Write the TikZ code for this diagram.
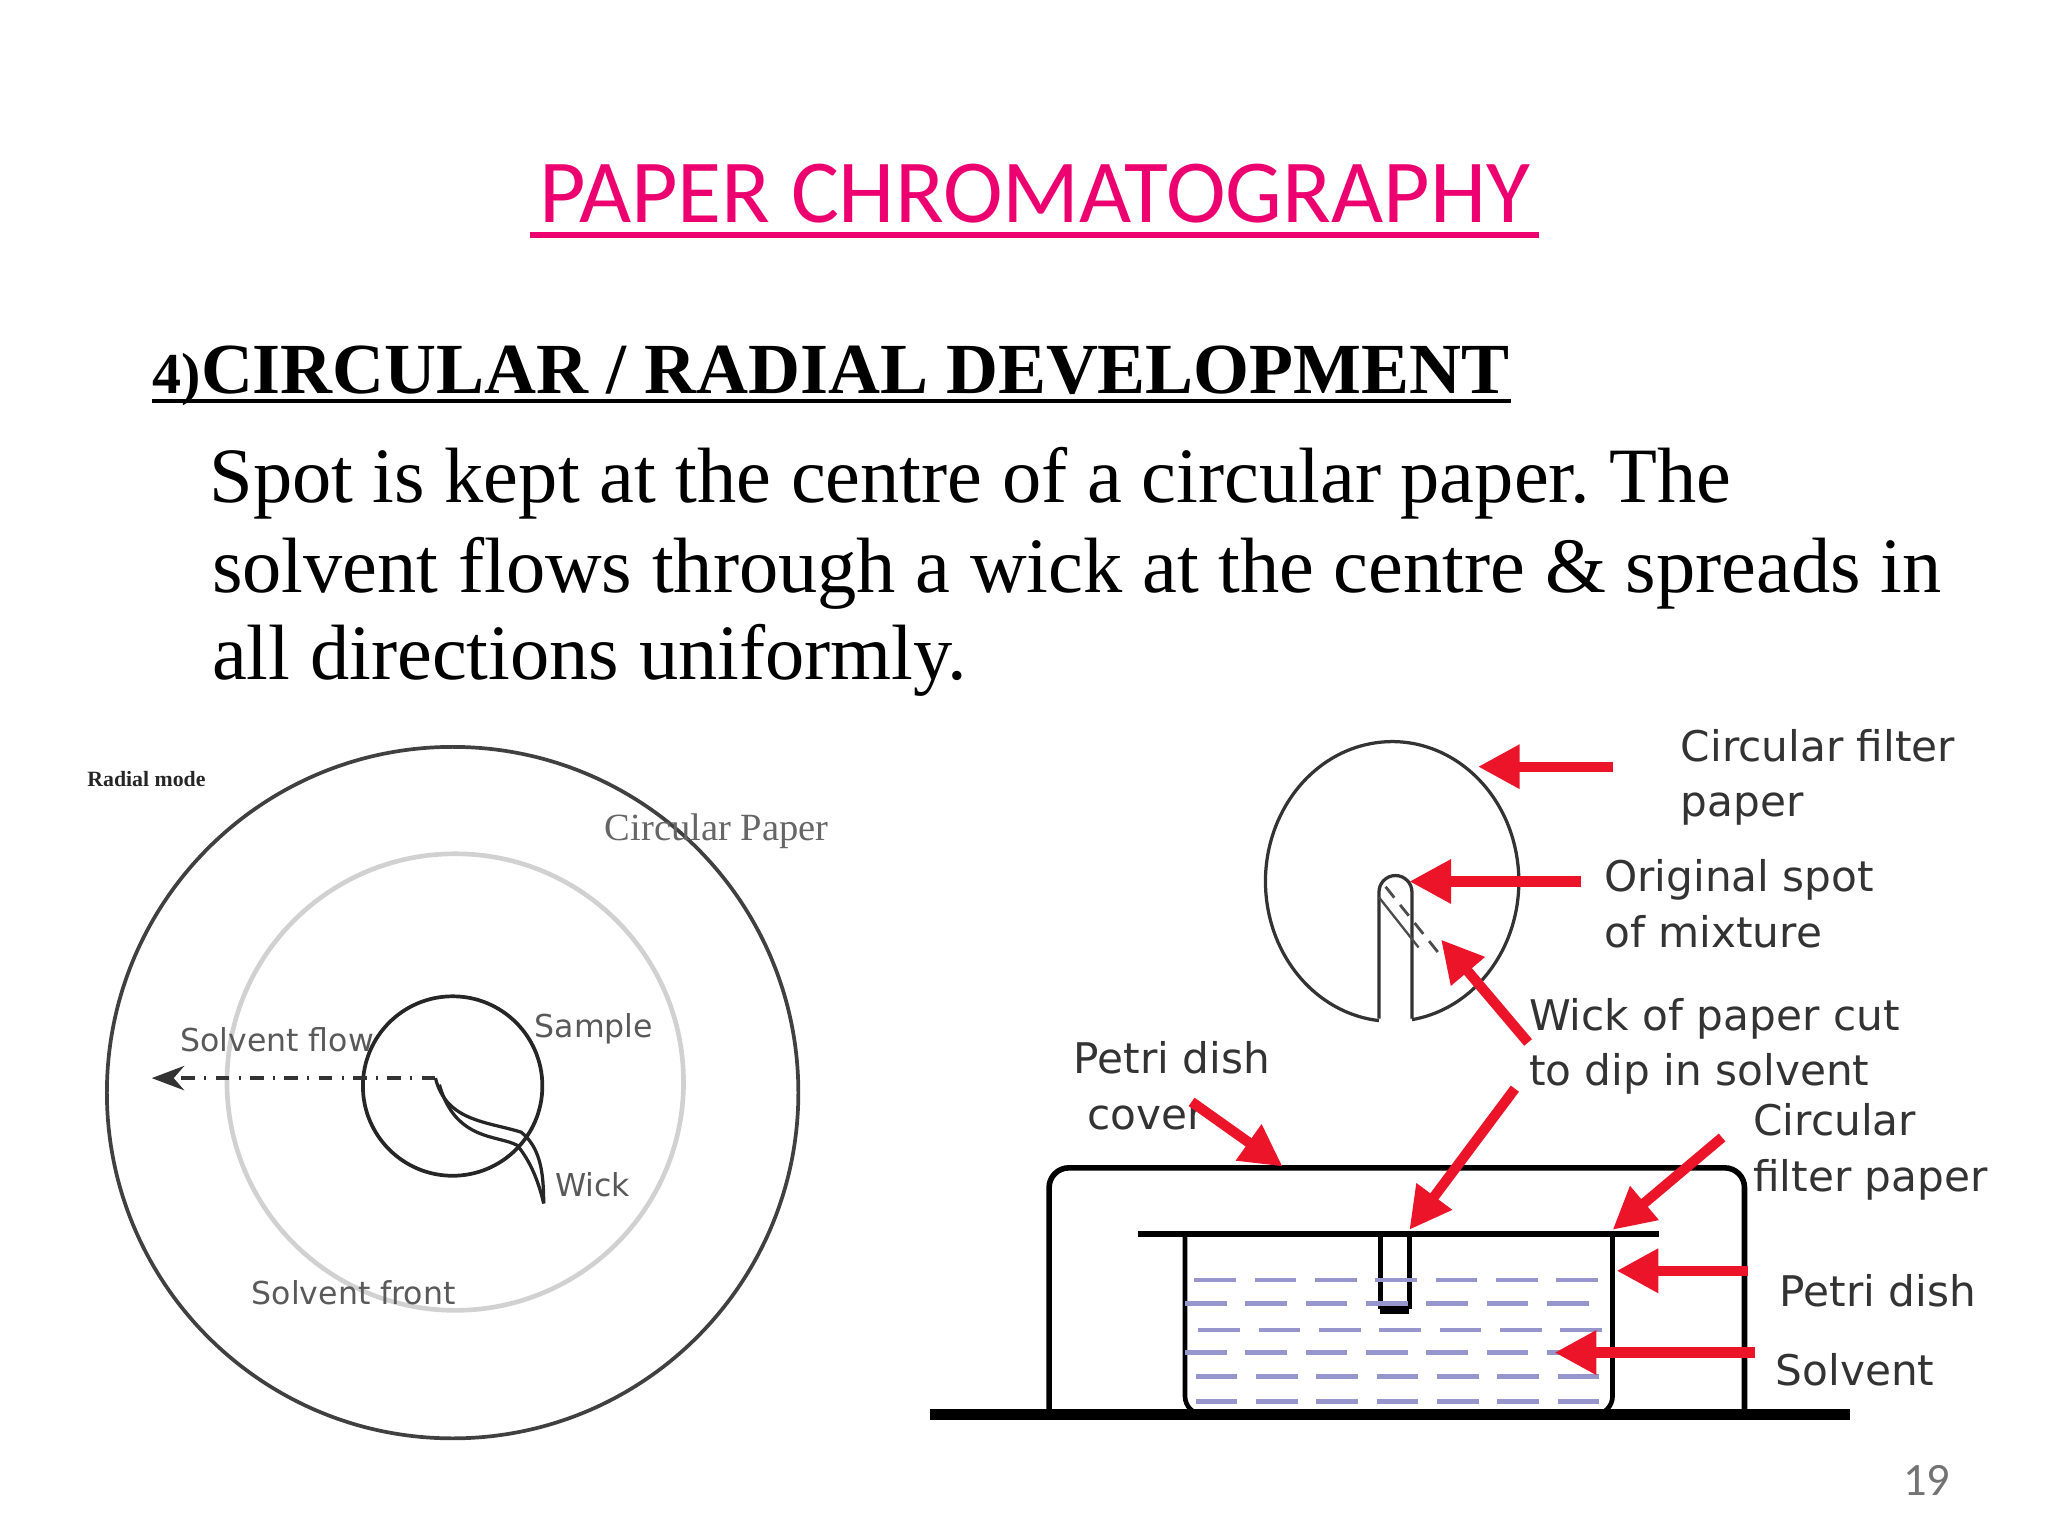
\documentclass[tikz,border=0pt]{standalone}
\usepackage{fontspec}
\setmainfont{Liberation Serif}
\newfontfamily\titlefont{Carlito}
\newfontfamily\lblfont{DejaVu Sans}
\usetikzlibrary{arrows.meta}
\frenchspacing
\definecolor{tpink}{RGB}{236,0,112}
\definecolor{lav}{RGB}{150,150,205}
\definecolor{redarr}{RGB}{235,20,40}
\tikzset{
  redarrow/.style={draw=redarr,line width=2.2pt,-{Triangle[length=9pt,width=9pt]}},
  rlbl/.style={font=\lblfont\fontsize{9.1}{12}\selectfont,text=black!80,align=left,anchor=west,inner sep=0pt},
  llbl/.style={font=\lblfont\fontsize{6.8}{8}\selectfont,text=black!65,inner sep=0pt},
  bodyl/.style={font=\fontsize{16.9}{20}\selectfont,anchor=base west,inner sep=0pt},
}
\begin{document}
\begin{tikzpicture}[x=0.01cm,y=-0.01cm]
\useasboundingbox (0,0) rectangle (1552,1164);
% title
\node[font=\titlefont\fontsize{19.4}{24}\selectfont,text=tpink,inner sep=0pt] (title) at (784,147) {PAPER CHROMATOGRAPHY};
\draw[tpink,line width=1.2pt] (402,178) -- (1166,178);
\node[font=\bfseries\fontsize{15.5}{19}\selectfont,anchor=base west,inner sep=0pt] (head) at (115,298) {{\fontsize{12.5}{15}\selectfont 4)}CIRCULAR / RADIAL DEVELOPMENT};
\draw[line width=0.9pt] (115,304) -- (head.east|-0,304);
\node[bodyl] (l1) at (158,381) {Spot is kept at the centre of a circular paper. The};
\node[bodyl] (l2) at (160,449) {solvent flows through a wick at the centre \& spreads in};
\node[bodyl] (l3) at (160,515) {all directions uniformly.};
% left diagram
\draw[black!75,line width=0.8pt] (343,828) circle (262);
\draw[black!18,line width=1pt] (345,820) circle (173);
\draw[black!85,line width=0.8pt] (343,823) circle (68);
\coordinate (ws) at (330,817);
\coordinate (we) at (412,912);
\draw[black!80,-{Stealth[length=7pt]},dash dot,line width=0.8pt] (ws) -- (115,817);
\draw[black!85,line width=0.7pt] (ws) .. controls (338,850) and (370,850) .. (395,858) .. controls (410,870) and (412,890) .. (we);
\draw[black!85,line width=0.7pt] (333,822) .. controls (345,865) and (378,860) .. (392,868) .. controls (402,880) and (408,895) .. (we);
\node[font=\bfseries\fontsize{4.7}{6}\selectfont,text=black!85,inner sep=0pt] (rm) at (111,590) {Radial mode};
\node[font=\fontsize{8.3}{10}\selectfont,text=black!60,inner sep=0pt] (cp) at (543,630) {Circular Paper};
\node[llbl] (sf) at (210,788) {Solvent flow};
\node[llbl] (sm) at (450,780) {Sample};
\node[llbl] (wk) at (449,898) {Wick};
\node[llbl] (sfr) at (268,980) {Solvent front};
% right diagram: filter paper
\draw[black!80,line width=0.7pt] (1045,772) -- (1045,676) arc (180:360:12.5) -- (1070,772);
\draw[black!80,line width=0.7pt] (1070,772.7) arc[start angle=81,end angle=-264,x radius=96,y radius=106];
\draw[black!70,densely dashed,line width=0.6pt] (1050,672) -- (1090,722);
\draw[black!70,line width=0.5pt] (1045,680) -- (1075,718);
% petri dish
\draw[line width=1.2pt] (795,1072) -- (795,900) arc (180:270:15) -- (1307,885) arc (270:360:15) -- (1322,1072);
\draw[line width=2.4pt] (705,1072) -- (1402,1072);
\draw[line width=1.3pt] (862,935) -- (1257,935);
\draw[line width=1pt] (898,935) -- (898,1058) arc (180:90:14) -- (1208,1072) arc (90:0:14) -- (1222,935);
\draw[line width=1pt] (1046,935) -- (1046,992) (1068,935) -- (1068,992);
\draw[line width=2pt] (1046,992) -- (1068,992);
\foreach \yy/\xs in {970/905,988/898,1008/908,1025/898,1043/906,1062/906}
  \draw[lav,dash pattern=on 9pt off 4pt,line width=1pt] (\xs,\yy) -- (1218,\yy);
% labels
\node[rlbl] (cfp) at (1273,589) {Circular filter\\paper};
\node[rlbl] (os) at (1215,685) {Original spot\\of mixture};
\node[rlbl] (wpc) at (1158,793) {Wick of paper cut\\to dip in solvent};
\node[rlbl] (pdc) at (813,823) {Petri dish\\\ cover};
\node[rlbl] (cfp2) at (1328,873) {Circular\\filter paper};
\node[rlbl] (pd) at (1348,978) {Petri dish};
\node[rlbl] (sv) at (1345,1038) {Solvent};
% arrows
\draw[redarrow] (1222,581) -- (1120,581);
\draw[redarrow] (1198,668) -- (1068,668);
\draw[redarrow] (1158,790) -- (1092,712);
\draw[redarrow] (1148,825) -- (1068,932);
\draw[redarrow] (903,835) -- (972,884);
\draw[redarrow] (1305,862) -- (1222,932);
\draw[redarrow] (1325,963) -- (1225,963);
\draw[redarrow] (1330,1025) -- (1178,1025);
\node[font=\titlefont\fontsize{10}{12}\selectfont,text=black!55] (pg) at (1460,1122) {19};
\end{tikzpicture}
\end{document}
